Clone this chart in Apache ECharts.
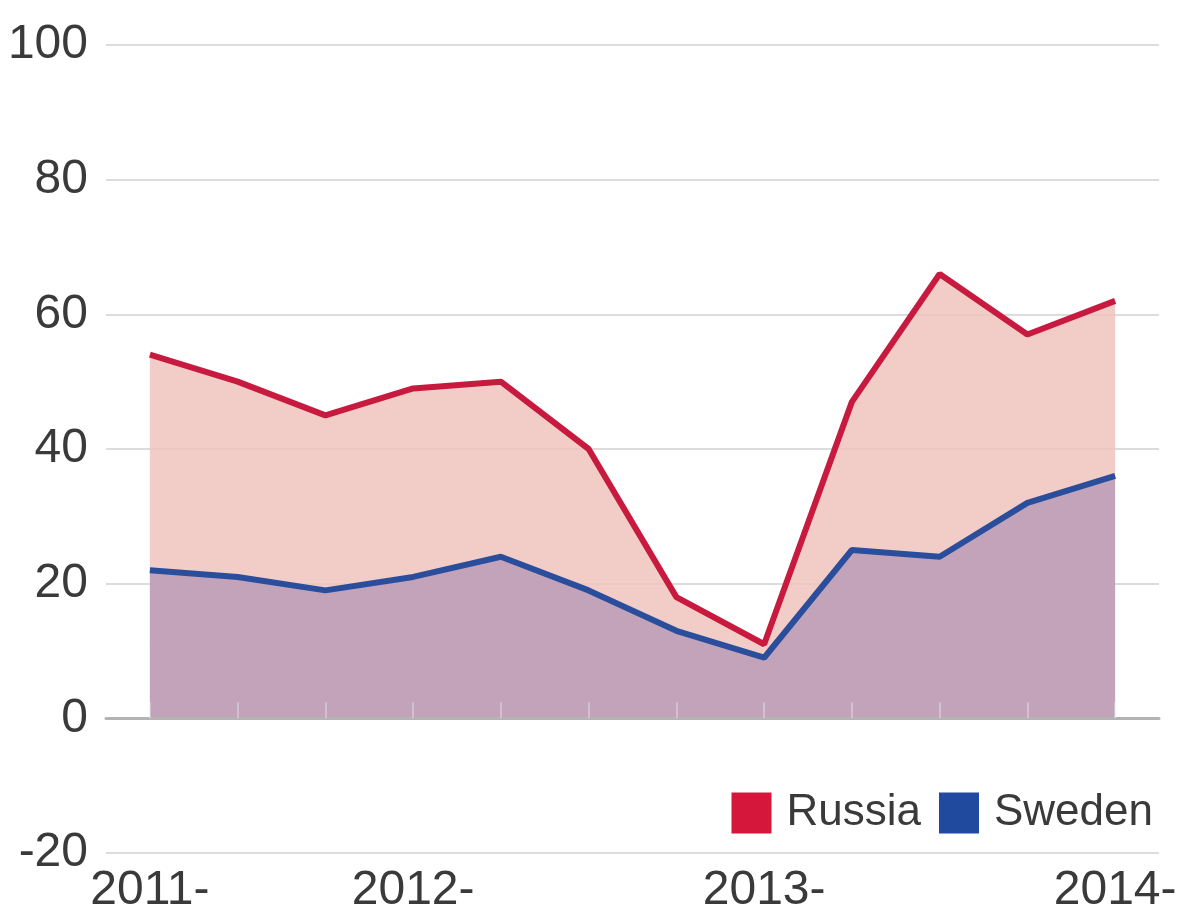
<!DOCTYPE html>
<html>
<head>
<meta charset="utf-8">
<script src="https://cdn.jsdelivr.net/npm/echarts@6/dist/echarts.min.js"></script>
<style>
html,body{margin:0;padding:0;background:#fff;}
#chart{width:1180px;height:915px;}
</style>
</head>
<body>
<div id="chart"></div>
<script>
const categories = ['2011-Q1','2011-Q2','2011-Q3','2011-Q4','2012-Q1','2012-Q2','2012-Q3','2012-Q4','2013-Q1','2013-Q2','2013-Q3','2013-Q4'];
const tickLabels = {0:'2011-', 3:'2012-', 7:'2013-', 11:'2014-'};
const russia = [54, 50, 45, 49, 50, 40, 18, 11, 47, 66, 57, 62];
const sweden = [22, 21, 19, 21, 24, 19, 13, 9, 25, 24, 32, 36];
const yTicks = {min: -20, max: 100, interval: 20};

const FONT = '"Liberation Sans Narrow", "Liberation Sans", sans-serif';
const chart = echarts.init(document.getElementById('chart'), null, {renderer: 'canvas'});
chart.setOption({
  animation: false,
  backgroundColor: '#ffffff',
  grid: {left: 106, right: 21, top: 45, bottom: 57, containLabel: false},
  legend: {
    right: 22, top: 786,
    itemWidth: 40, itemHeight: 41, itemGap: 18,
    icon: 'rect',
    textStyle: {fontFamily: FONT, fontSize: 44, color: '#3a3a3a', padding: [0, 0, 0, 10]},
    data: [{name: 'Russia', itemStyle: {color: '#d5173c'}}, {name: 'Sweden', itemStyle: {color: '#1f4a9e'}}]
  },
  xAxis: [{
    type: 'category', data: categories, boundaryGap: true, position: 'bottom',
    axisLine: {show: false, onZero: false},
    axisTick: {show: false},
    axisLabel: {
      interval: 0, margin: 14,
      fontFamily: FONT, fontSize: 48, color: '#3a3a3a',
      formatter: (v, i) => tickLabels[i] || ''
    }
  }, {
    type: 'category', data: categories, boundaryGap: true, position: 'bottom', z: 5,
    axisLine: {show: true, onZero: true, lineStyle: {color: '#b3b3b3', width: 3}},
    axisTick: {show: true, inside: true, alignWithLabel: true, length: 16, lineStyle: {color: 'rgba(255,255,255,0.3)', width: 2}},
    axisLabel: {show: false}
  }],
  yAxis: {
    type: 'value', min: yTicks.min, max: yTicks.max, interval: yTicks.interval,
    axisLine: {show: false}, axisTick: {show: false},
    axisLabel: {fontFamily: FONT, fontSize: 48, color: '#3a3a3a', margin: 18},
    splitLine: {lineStyle: {color: '#dcdcdc', width: 2}}
  },
  series: [{
    name: 'Russia', type: 'line', data: russia, xAxisIndex: 0,
    symbol: 'none', z: 2,
    lineStyle: {color: '#c8193f', width: 6},
    itemStyle: {color: '#d5173c'},
    areaStyle: {color: 'rgba(240,196,190,0.85)', origin: 0, opacity: 1}
  }, {
    name: 'Sweden', type: 'line', data: sweden, xAxisIndex: 0,
    symbol: 'none', z: 3,
    lineStyle: {color: '#2b4e9c', width: 6},
    itemStyle: {color: '#1f4a9e'},
    areaStyle: {color: 'rgba(190,158,184,0.9)', origin: 0, opacity: 1}
  }]
});
</script>
</body>
</html>
